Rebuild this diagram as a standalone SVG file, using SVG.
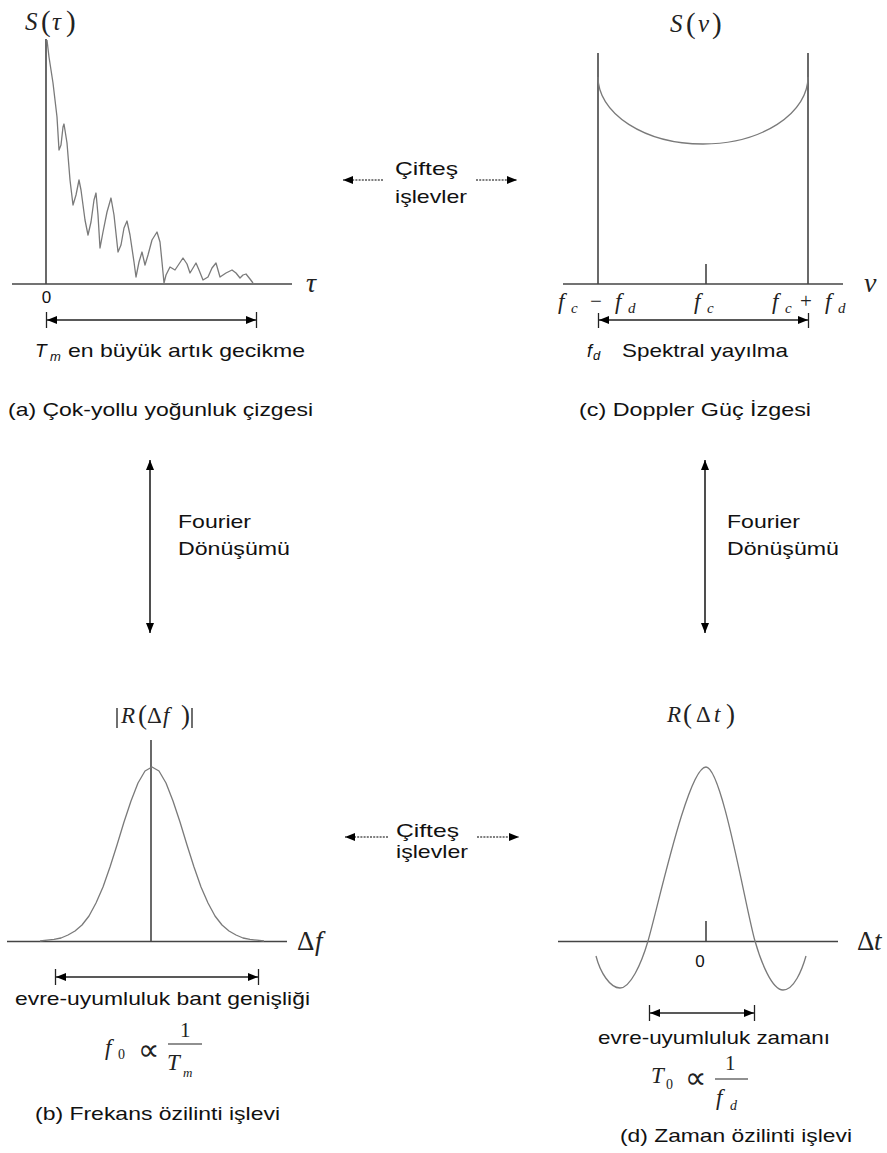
<svg xmlns="http://www.w3.org/2000/svg" width="887" height="1153" viewBox="0 0 887 1153">
<defs>
<marker id="ah" viewBox="0 0 10 8" refX="10" refY="4" markerWidth="10" markerHeight="8" markerUnits="userSpaceOnUse" orient="auto-start-reverse"><path d="M0,0 L10,4 L0,8 z" fill="#000"/></marker>
<style>
.t{font-family:"Liberation Sans",Arial,sans-serif;font-size:19px;fill:#111}
.ti{font-family:"Liberation Sans",Arial,sans-serif;font-style:italic;fill:#111}
.m{font-family:"Liberation Serif","DejaVu Serif","Times New Roman",serif;font-style:italic;fill:#222}
.mu{font-family:"Liberation Serif","DejaVu Serif","Times New Roman",serif;font-style:normal;fill:#222}
.pr{font-family:"DejaVu Sans","DejaVu Serif",sans-serif;font-size:30px;fill:#222}
.ax{stroke:#444;stroke-width:1.6;fill:none}
.cv{stroke:#7a7a7a;stroke-width:1.3;fill:none;stroke-linejoin:round}
.dim{stroke:#222;stroke-width:1.5;fill:none}
.bar{stroke:#222;stroke-width:1.3}
.dot{stroke:#555;stroke-width:1.4;stroke-dasharray:2,1.2;fill:none}
.fa{stroke:#222;stroke-width:1.6;fill:none}
</style>
</defs>
<rect width="887" height="1153" fill="#fff"/>

<g id="panel-a">
<line class="ax" x1="46" y1="39" x2="46" y2="284"/>
<line class="ax" x1="12" y1="284" x2="292" y2="284"/>
<polyline class="cv" points="47,40 49,57 51,70 53,83 57,117 59,150 61,145 63,127 64,124 67,143 70,180 73,205 76,195 79,180 81,190 85,220 88,235 91,222 94,200 96,193 98,215 100,248 103,232 107,212 111,198 114,215 118,252 121,245 124,228 127,221 130,235 134,262 136,277 139,262 142,252 145,265 148,255 152,240 157,232 160,242 162,262 164,283 166,275 170,267 175,270 179,264 183,258 187,264 190,273 193,268 196,263 199,270 203,280 208,277 212,268 216,263 218,270 220,277 226,273 232,270 236,273 240,278 243,275 246,274 250,279 253,283"/>
<text class="m" x="25" y="30" style="font-size:25px">S</text>
<text class="mu" x="41" y="31" style="font-size:29px">(</text>
<text class="m" x="52" y="30" style="font-size:25px">τ</text>
<text class="mu" x="66" y="31" style="font-size:29px">)</text>
<text class="m" x="306" y="292" style="font-size:28px">τ</text>
<text class="t" x="46.5" y="303" text-anchor="middle" style="font-size:17px">0</text>
<line class="dim" x1="47" y1="320" x2="256" y2="320" marker-start="url(#ah)" marker-end="url(#ah)"/>
<line class="bar" x1="46.5" y1="312" x2="46.5" y2="328"/>
<line class="bar" x1="256.5" y1="312" x2="256.5" y2="328"/>
<text class="ti" x="35" y="357" style="font-size:19px">T</text>
<text class="ti" x="50" y="361" style="font-size:13px">m</text>
<text class="t" x="68" y="357" textLength="237" lengthAdjust="spacingAndGlyphs">en büyük artık gecikme</text>
<text class="t" x="8" y="416" textLength="305" lengthAdjust="spacingAndGlyphs">(a) Çok-yollu yoğunluk çizgesi</text>
</g>

<g id="panel-c">
<line class="ax" x1="598" y1="53" x2="598" y2="284"/>
<line class="ax" x1="808" y1="53" x2="808" y2="284"/>
<line class="ax" x1="563" y1="284" x2="843" y2="284"/>
<line class="ax" x1="706" y1="264" x2="706" y2="284"/>
<path class="cv" d="M598,77 A105,67 0 0 0 808,77"/>
<text class="m" x="670" y="32" style="font-size:25px">S</text>
<text class="mu" x="686" y="33" style="font-size:29px">(</text>
<text class="m" x="698" y="32" style="font-size:25px">ν</text>
<text class="mu" x="712" y="33" style="font-size:29px">)</text>
<text class="m" x="864" y="292" style="font-size:28px">ν</text>
<text class="m" x="558" y="309" style="font-size:23px">f</text>
<text class="m" x="571" y="313" style="font-size:15px">c</text>
<text class="mu" x="590" y="308" style="font-size:21px">−</text>
<text class="m" x="615" y="309" style="font-size:23px">f</text>
<text class="m" x="628" y="313" style="font-size:15px">d</text>
<text class="m" x="694" y="309" style="font-size:23px">f</text>
<text class="m" x="707" y="313" style="font-size:15px">c</text>
<text class="m" x="772" y="309" style="font-size:23px">f</text>
<text class="m" x="785" y="313" style="font-size:15px">c</text>
<text class="mu" x="800" y="308" style="font-size:21px">+</text>
<text class="m" x="825" y="309" style="font-size:23px">f</text>
<text class="m" x="838" y="313" style="font-size:15px">d</text>
<line class="dim" x1="599" y1="320" x2="808" y2="320" marker-start="url(#ah)" marker-end="url(#ah)"/>
<line class="bar" x1="598.5" y1="313" x2="598.5" y2="328"/>
<line class="bar" x1="808.5" y1="313" x2="808.5" y2="328"/>
<text class="ti" x="587" y="357" style="font-size:18px">f</text>
<text class="ti" x="593" y="360" style="font-size:13px">d</text>
<text class="t" x="622" y="357" textLength="166" lengthAdjust="spacingAndGlyphs">Spektral yayılma</text>
<text class="t" x="579" y="416" textLength="232" lengthAdjust="spacingAndGlyphs">(c) Doppler Güç İzgesi</text>
</g>

<g id="panel-b">
<line class="ax" x1="7" y1="941.5" x2="287" y2="941.5"/>
<line class="ax" x1="151" y1="740" x2="151" y2="941"/>
<path class="cv" d="M40,941 L47,940.2 54,939.4 61,938 68,935 75,931 82,925 89,916 96,903 103,887 110,867 117,845 124,822 131,801 138,783 145,771 152,767 159,771 166,783 173,801 180,822 187,845 194,867 201,887 208,903 215,916 222,925 229,931 236,935 243,938 250,939.4 257,940.2 264,941"/>
<line class="bar" x1="117" y1="708" x2="117" y2="728"/>
<text class="m" x="121" y="723" style="font-size:23px">R</text>
<text class="mu" x="138" y="724" style="font-size:27px">(</text>
<text class="mu" x="147" y="723" style="font-size:23px">Δ</text>
<text class="m" x="163" y="723" style="font-size:23px">f</text>
<text class="mu" x="181" y="724" style="font-size:27px">)</text>
<line class="bar" x1="192" y1="708" x2="192" y2="728"/>
<text class="mu" x="297" y="950" style="font-size:27px">Δ</text>
<text class="m" x="315" y="950" style="font-size:27px">f</text>
<line class="dim" x1="56" y1="977" x2="258" y2="977" marker-start="url(#ah)" marker-end="url(#ah)"/>
<line class="bar" x1="55.5" y1="969" x2="55.5" y2="985"/>
<line class="bar" x1="258.5" y1="969" x2="258.5" y2="985"/>
<text class="t" x="15" y="1005" textLength="295" lengthAdjust="spacingAndGlyphs">evre-uyumluluk bant genişliği</text>
<text class="m" x="105" y="1055" style="font-size:23px">f</text>
<text class="mu" x="118" y="1059" style="font-size:14px">0</text>
<text class="pr" x="138" y="1060">∝</text>
<text class="mu" x="180" y="1037" style="font-size:21px">1</text>
<line stroke="#222" stroke-width="1.2" x1="168" y1="1044" x2="202" y2="1044"/>
<text class="m" x="167" y="1070" style="font-size:23px">T</text>
<text class="m" x="183" y="1077" style="font-size:13px">m</text>
<text class="t" x="35" y="1120" textLength="245" lengthAdjust="spacingAndGlyphs">(b) Frekans özilinti işlevi</text>
</g>

<g id="panel-d">
<line class="ax" x1="558" y1="941.5" x2="838" y2="941.5"/>
<line class="ax" x1="706" y1="921" x2="706" y2="941"/>
<path class="cv" d="M596,956 C600,972 610,988 620,988 C630,988 641,965 648,941 C658,907 688,767 706,767 C722,767 746,910 755,941 C761,962 772,990 783,990 C794,990 802,970 806,956"/>
<text class="m" x="667" y="722" style="font-size:23px">R</text>
<text class="mu" x="683" y="723" style="font-size:27px">(</text>
<text class="mu" x="696" y="722" style="font-size:23px">Δ</text>
<text class="m" x="714" y="722" style="font-size:23px">t</text>
<text class="mu" x="726" y="723" style="font-size:27px">)</text>
<text class="mu" x="857" y="950" style="font-size:27px">Δ</text>
<text class="m" x="874" y="950" style="font-size:27px">t</text>
<text class="t" x="700" y="967" text-anchor="middle" style="font-size:17px">0</text>
<line class="dim" x1="650" y1="1013" x2="754" y2="1013" marker-start="url(#ah)" marker-end="url(#ah)"/>
<line class="bar" x1="649.5" y1="1005" x2="649.5" y2="1021"/>
<line class="bar" x1="754.5" y1="1005" x2="754.5" y2="1021"/>
<text class="t" x="598" y="1044" textLength="232" lengthAdjust="spacingAndGlyphs">evre-uyumluluk zamanı</text>
<text class="m" x="651" y="1083" style="font-size:23px">T</text>
<text class="mu" x="666" y="1089" style="font-size:14px">0</text>
<text class="pr" x="685" y="1088">∝</text>
<text class="mu" x="725" y="1070" style="font-size:21px">1</text>
<line stroke="#222" stroke-width="1.2" x1="715" y1="1079" x2="748" y2="1079"/>
<text class="m" x="716" y="1105" style="font-size:23px">f</text>
<text class="m" x="730" y="1110" style="font-size:14px">d</text>
<text class="t" x="620" y="1142" textLength="232" lengthAdjust="spacingAndGlyphs">(d) Zaman özilinti işlevi</text>
</g>

<g id="label-dual-top">
<text class="t" x="395" y="175" textLength="63" lengthAdjust="spacingAndGlyphs">Çifteş</text>
<text class="t" x="395" y="203" textLength="72" lengthAdjust="spacingAndGlyphs">işlevler</text>
</g>
<g id="label-dual-bottom">
<text class="t" x="396" y="837" textLength="63" lengthAdjust="spacingAndGlyphs">Çifteş</text>
<text class="t" x="396" y="858" textLength="72" lengthAdjust="spacingAndGlyphs">işlevler</text>
</g>
<g id="label-fourier-left">
<text class="t" x="178" y="528" textLength="73" lengthAdjust="spacingAndGlyphs">Fourier</text>
<text class="t" x="178" y="555" textLength="112" lengthAdjust="spacingAndGlyphs">Dönüşümü</text>
</g>
<g id="label-fourier-right">
<text class="t" x="727" y="528" textLength="73" lengthAdjust="spacingAndGlyphs">Fourier</text>
<text class="t" x="727" y="555" textLength="112" lengthAdjust="spacingAndGlyphs">Dönüşümü</text>
</g>

<g id="connectors">
<line class="fa" x1="150" y1="460" x2="150" y2="633" marker-start="url(#ah)" marker-end="url(#ah)"/>
<line class="fa" x1="705" y1="460" x2="705" y2="633" marker-start="url(#ah)" marker-end="url(#ah)"/>
<line class="dot" x1="383" y1="180" x2="343" y2="180" marker-end="url(#ah)"/>
<line class="dot" x1="476" y1="180" x2="517" y2="180" marker-end="url(#ah)"/>
<line class="dot" x1="388" y1="837" x2="345" y2="837" marker-end="url(#ah)"/>
<line class="dot" x1="477" y1="837" x2="519" y2="837" marker-end="url(#ah)"/>
</g>
</svg>
